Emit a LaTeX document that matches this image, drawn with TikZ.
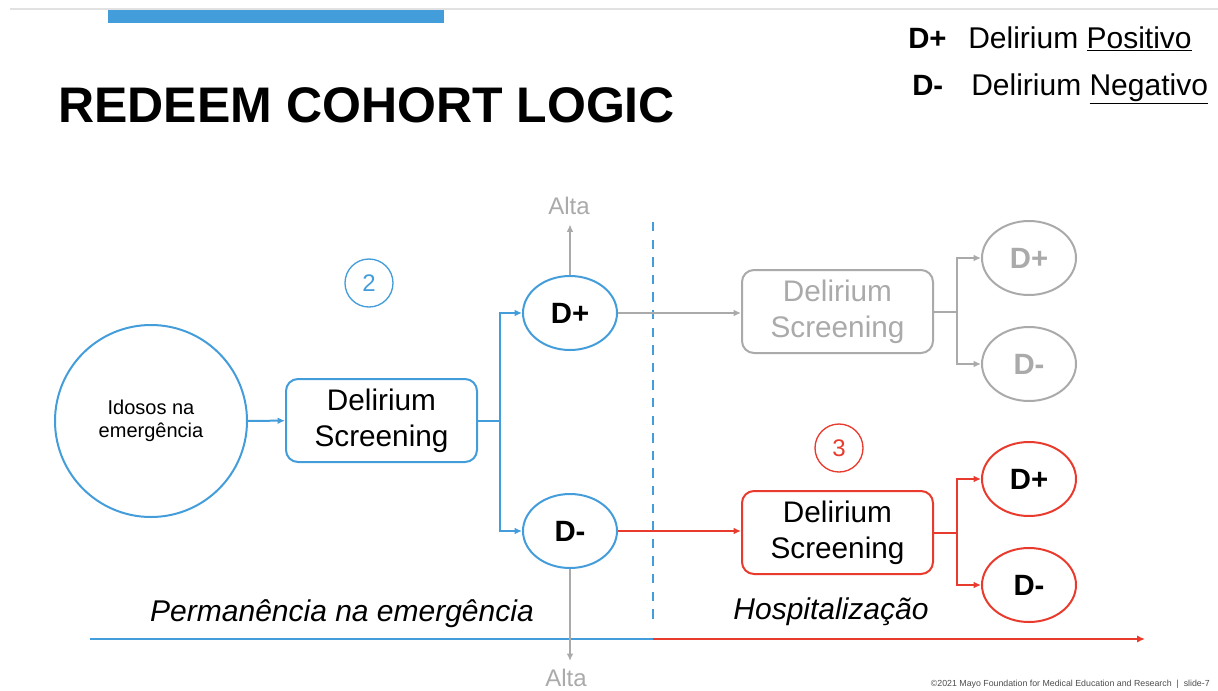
\documentclass[tikz,border=0pt]{standalone}
\usepackage{fontspec}
\setmainfont{Liberation Sans}
\usetikzlibrary{shapes.geometric,arrows.meta}
\definecolor{cblue}{RGB}{68,157,219}
\definecolor{cred}{RGB}{233,59,45}
\definecolor{cgray}{RGB}{170,170,170}
\definecolor{cline}{RGB}{225,225,225}
\begin{document}
\begin{tikzpicture}[x=0.75pt,y=-0.75pt,
  screenbox/.style={draw, line width=1.5pt, rounded corners=9pt, minimum width=143.25pt, minimum height=62.25pt, align=center, inner sep=0pt, font=\fontsize{22.3}{27}\selectfont},
  dnode/.style={ellipse, draw, line width=1.5pt, minimum width=70.5pt, minimum height=55.5pt, inner sep=0pt, font=\bfseries\fontsize{22}{26}\selectfont},
  conn/.style={line width=1.5pt, -{Latex[length=5.5pt,width=5pt]}},
  plain/.style={line width=1.5pt},
  numc/.style={circle, draw, line width=1pt, minimum size=36pt, inner sep=0pt, font=\fontsize{18}{20}\selectfont},
  alta/.style={text=cgray, inner sep=2pt, font=\fontsize{18}{20}\selectfont},
  phase/.style={font=\itshape\fontsize{22.5}{26}\selectfont},
  legend/.style={anchor=base west, inner sep=0pt, font=\fontsize{22.5}{26}\selectfont}
]
\useasboundingbox (0,0) rectangle (1218,690);
% header
\coordinate (hl0) at (10,9);
\coordinate (hl1) at (1218,9);
\draw[cline, line width=1.5pt] (hl0) -- (hl1);
\fill[cblue] (108,10) rectangle (444,23);
\node[anchor=base west, inner sep=0pt, font=\bfseries\fontsize{37.5}{40}\selectfont] (title) at (58,122) {REDEEM COHORT LOGIC};
% legend
\node[legend, font=\bfseries\fontsize{22}{26}\selectfont] (lp) at (908,48) {D+};
\node[legend] (lpt) at (968,48) {Delirium \underline{Positivo}};
\node[legend, font=\bfseries\fontsize{22}{26}\selectfont] (lm) at (912,95) {D-};
\node[legend] (lmt) at (971,95) {Delirium \underline{Negativo}};
% main nodes
\node[circle, draw=cblue, line width=1.5pt, minimum size=144pt, inner sep=0pt, align=center, font=\fontsize{15}{17.5}\selectfont] (idosos) at (151,421) {Idosos na\\emergência};
\node[screenbox, draw=cblue] (ds1) at (381.5,420.5) {Delirium\\Screening};
\node[dnode, draw=cblue] (dp1) at (570,313) {D+};
\node[dnode, draw=cblue] (dm1) at (570,531) {D-};
\node[screenbox, draw=cgray, text=cgray] (ds2) at (837.5,311.5) {Delirium\\Screening};
\node[dnode, draw=cgray, text=cgray] (dp2) at (1029,258) {D+};
\node[dnode, draw=cgray, text=cgray] (dm2) at (1029,364) {D-};
\node[screenbox, draw=cred] (ds3) at (837.5,532.5) {Delirium\\Screening};
\node[dnode, draw=cred] (dp3) at (1029,479) {D+};
\node[dnode, draw=cred] (dm3) at (1029,585) {D-};
\node[numc, draw=cblue, text=cblue] (n2) at (369,283) {2};
\node[numc, draw=cred, text=cred] (n3) at (839,448) {3};
\node[alta] (alta1) at (569,206) {Alta};
\node[alta] (alta2) at (566,678) {Alta};
% dashed divider
\coordinate (dtop) at (653,222);
\coordinate (dbot) at (653,622);
\draw[cblue, line width=2pt, dash pattern=on 7pt off 6.2pt] (dtop) -- (dbot);
% connectors
\draw[conn, cblue] (idosos) -- (ds1);
\coordinate (f1) at (500,420.5);
\draw[plain, cblue] (ds1.east) -- (f1);
\draw[conn, cblue] (f1) |- (dp1.west);
\draw[conn, cblue] (f1) |- (dm1.west);
\draw[conn, cgray, shorten >=5pt] (dp1.north) -- (dp1.north |- alta1.south);
\draw[conn, cgray] (dp1.east) -- (dp1.east -| ds2.west);
\coordinate (f2) at (957,311.5);
\draw[plain, cgray] (ds2.east) -- (f2);
\draw[conn, cgray] (f2) |- (dp2.west);
\draw[conn, cgray] (f2) |- (dm2.west);
\draw[conn, cred] (dm1.east) -- (dm1.east -| ds3.west);
\coordinate (f3) at (957,532.5);
\draw[plain, cred] (ds3.east) -- (f3);
\draw[conn, cred] (f3) |- (dp3.west);
\draw[conn, cred] (f3) |- (dm3.west);
% timeline
\coordinate (tl0) at (90,639);
\coordinate (tlm) at (653,639);
\coordinate (tl1) at (1145,639);
\draw[cblue, line width=1.75pt] (tl0) -- (tlm);
\draw[cred, line width=1.75pt, -{Latex[length=6pt,width=5.5pt]}] (tlm) -- (tl1);
\draw[conn, cgray, shorten >=4pt] (dm1.south) -- (dm1.south |- alta2.north);
\node[phase] (perm) at (342,614) {Permanência na emergência};
\node[phase] (hosp) at (831,612) {Hospitalização};
% footer
\node[anchor=east, inner sep=0pt, text=black!70, font=\fontsize{6.6}{7.5}\selectfont] (copy) at (1210,684) {©2021 Mayo Foundation for Medical Education and Research \ | \ slide-7};
\end{tikzpicture}
\end{document}
